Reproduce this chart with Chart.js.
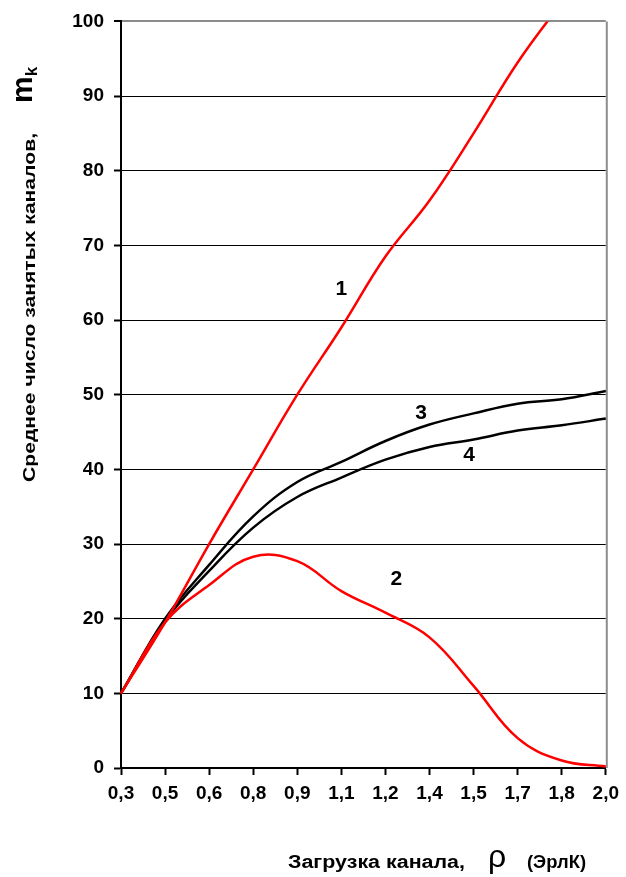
<!DOCTYPE html>
<html>
<head>
<meta charset="utf-8">
<script src="https://cdn.jsdelivr.net/npm/chart.js@4.4.0/dist/chart.umd.min.js"></script>
<style>
  html, body { margin: 0; padding: 0; background: #fff; }
  #wrap { width: 626px; height: 877px; }
</style>
</head>
<body>
<div id="wrap"><canvas id="chart"></canvas></div>
<script>
// загрузка канала, Эрл
const loads = ['0,3', '0,5', '0,6', '0,8', '0,9', '1,1', '1,2', '1,4', '1,5', '1,7', '1,8', '2,0'];

// среднее число занятых каналов для четырёх вариантов
const curve1 = [10, 19.5, 30, 40, 50, 59, 68.5, 76, 85, 94.5, 102.5, 110];
const curve2 = [10, 19.5, 24.5, 28.3, 27.7, 23.7, 20.8, 17.5, 11, 4, 1, 0.2];
const curve3 = [10, 20, 27.2, 33.7, 38.3, 41, 43.8, 46, 47.5, 48.8, 49.4, 50.5];
const curve4 = [10, 19.7, 26.4, 32.2, 36.3, 38.9, 41.3, 43, 44, 45.2, 45.9, 46.8];

// подписи кривых и их место (индекс категории, значение)
const curveNames = ['1', '2', '3', '4'];
const nameAtIndex = [5.0, 6.25, 6.81, 7.9];
const nameAtValue = [64.1, 25.3, 47.5, 41.9];

const yTicks = [0, 10, 20, 30, 40, 50, 60, 70, 80, 90, 100];

const FONT = '"Liberation Sans", Arial, sans-serif';

// текст, растянутый по ширине до width пикселей
function fitText(ctx, text, x, y, width) {
    const sx = width / ctx.measureText(text).width;
    ctx.save();
    ctx.translate(x, y);
    ctx.scale(sx, 1);
    ctx.fillText(text, 0, 0);
    ctx.restore();
}

const decorations = {
    id: 'decorations',
    beforeDatasetsDraw(chart) {
        const { ctx, chartArea } = chart;
        // серая рамка справа
        ctx.save();
        ctx.strokeStyle = '#8c8c8c';
        ctx.lineWidth = 2;
        ctx.beginPath();
        ctx.moveTo(chartArea.right + 1, chartArea.top);
        ctx.lineTo(chartArea.right + 1, chartArea.bottom);
        ctx.stroke();
        ctx.restore();
    },
    afterDraw(chart) {
        const { ctx } = chart;
        const x = chart.scales.x;
        const y = chart.scales.y;

        ctx.save();
        ctx.fillStyle = '#000';
        ctx.textBaseline = 'middle';
        ctx.textAlign = 'center';
        ctx.font = 'bold 21px ' + FONT;
        curveNames.forEach((name, i) => {
            ctx.fillText(name, x.getPixelForValue(nameAtIndex[i]), y.getPixelForValue(nameAtValue[i]));
        });
        ctx.restore();

        // подпись оси Y (повёрнутая)
        ctx.save();
        ctx.translate(35, 0);
        ctx.rotate(-Math.PI / 2);
        ctx.fillStyle = '#000';
        ctx.textBaseline = 'alphabetic';
        ctx.textAlign = 'left';
        ctx.font = 'bold 17px ' + FONT;
        fitText(ctx, 'Среднее число занятых каналов,', -482, 0, 349);
        ctx.font = 'bold 30px ' + FONT;
        const mw = ctx.measureText('m').width;
        ctx.fillText('m', -103, -3);
        ctx.font = 'bold 17px ' + FONT;
        ctx.fillText('k', -103 + mw, 2);
        ctx.restore();

        // подпись оси X
        ctx.save();
        ctx.fillStyle = '#000';
        ctx.textBaseline = 'alphabetic';
        ctx.textAlign = 'left';
        ctx.font = 'bold 18px ' + FONT;
        fitText(ctx, 'Загрузка канала,', 288, 868, 177);
        ctx.font = '32px ' + FONT;
        ctx.fillText('ρ', 488, 867);
        ctx.font = 'bold 18px ' + FONT;
        fitText(ctx, '(ЭрлК)', 527, 868, 59);
        ctx.restore();
    }
};

function series(data, color) {
    return {
        data: data,
        borderColor: color,
        borderWidth: 2.5,
        pointRadius: 0,
        fill: false,
        tension: 0.4
    };
}

new Chart(document.getElementById('chart'), {
    type: 'line',
    data: {
        labels: loads,
        datasets: [
            series(curve1, '#ff0000'),
            series(curve2, '#ff0000'),
            series(curve3, '#000000'),
            series(curve4, '#000000')
        ]
    },
    options: {
        responsive: true,
        maintainAspectRatio: false,
        animation: false,
        events: [],
        layout: { padding: { top: 18, right: 19, left: 0, bottom: 0 } },
        plugins: {
            legend: { display: false },
            tooltip: { enabled: false }
        },
        scales: {
            x: {
                type: 'category',
                offset: false,
                border: { display: true, color: '#000', width: 2 },
                grid: {
                    drawOnChartArea: false,
                    drawTicks: true,
                    tickLength: 7,
                    tickColor: '#000',
                    tickWidth: 2
                },
                ticks: {
                    color: '#000',
                    font: { family: FONT, size: 19, weight: 'bold' },
                    padding: 7,
                    maxRotation: 0,
                    autoSkip: false
                },
                afterFit(scale) { scale.height = 109; }
            },
            y: {
                min: 0,
                max: 100,
                afterBuildTicks(scale) { scale.ticks = yTicks.map(v => ({ value: v })); },
                border: { display: true, color: '#000', width: 2 },
                grid: {
                    color: ctx => (ctx.tick && ctx.tick.value === 100) ? '#8c8c8c' : '#000',
                    lineWidth: ctx => (ctx.tick && ctx.tick.value === 100) ? 2 : 1,
                    tickLength: 7,
                    tickColor: '#000',
                    tickWidth: 2
                },
                ticks: {
                    color: '#000',
                    font: { family: FONT, size: 19, weight: 'bold' },
                    padding: 10
                },
                afterFit(scale) { scale.width = 121; }
            }
        }
    },
    plugins: [decorations]
});
</script>
</body>
</html>
